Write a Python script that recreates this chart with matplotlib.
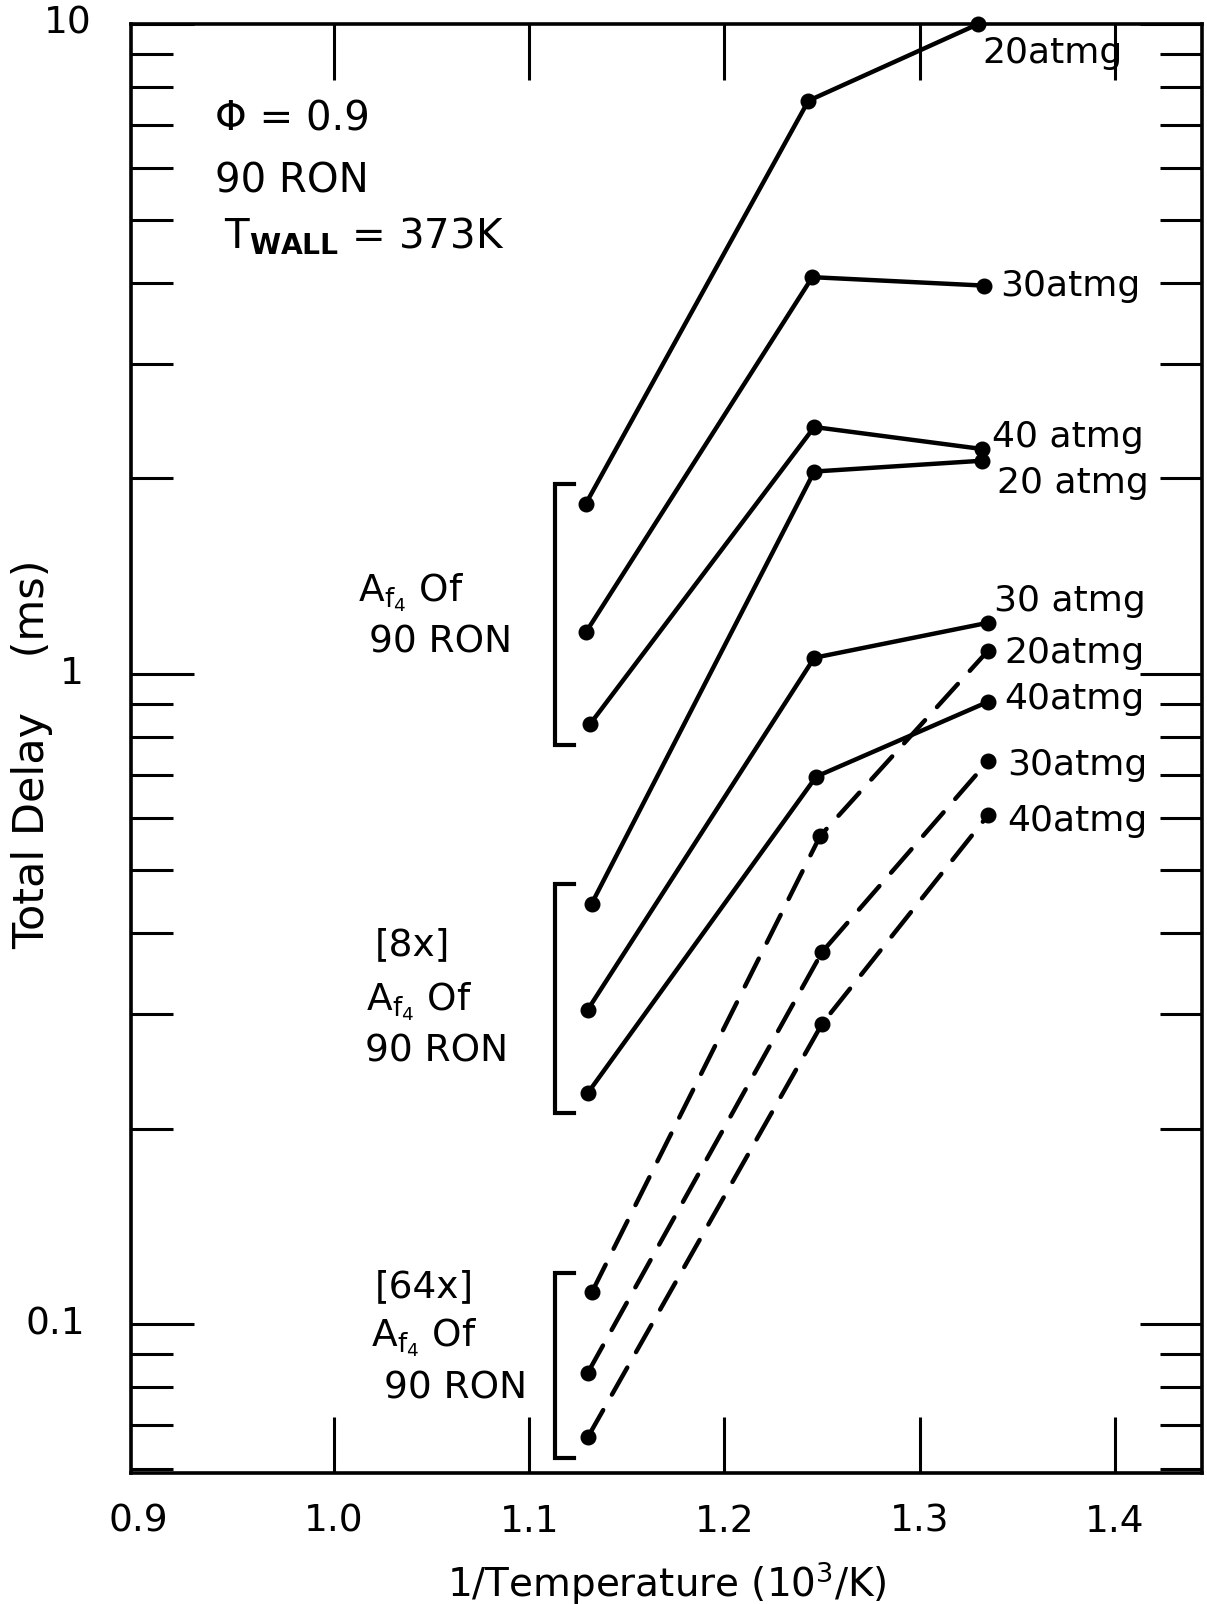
import matplotlib
matplotlib.use("Agg")
import matplotlib.pyplot as plt
import matplotlib.transforms as mtransforms
from matplotlib.ticker import FixedLocator, NullFormatter

plt.rcParams['font.family'] = ['DejaVu Sans']
plt.rcParams['mathtext.fontset'] = 'dejavusans'

# ---------------- data ----------------
# Group A : Af4 of 90 RON (solid)
xA20 = [1.129, 1.243, 1.330]
yA20 = [1.83, 7.62, 10.0]
xA30 = [1.129, 1.245, 1.333]
yA30 = [1.16, 4.08, 3.96]
xA40 = [1.131, 1.246, 1.332]
yA40 = [0.837, 2.40, 2.22]
# Group B : [8x] Af4 of 90 RON (solid)
xB20 = [1.132, 1.246, 1.332]
yB20 = [0.444, 2.05, 2.13]
xB30 = [1.130, 1.246, 1.335]
yB30 = [0.305, 1.06, 1.20]
xB40 = [1.130, 1.247, 1.335]
yB40 = [0.227, 0.696, 0.907]
# Group C : [64x] Af4 of 90 RON (dashed)
xC20 = [1.132, 1.249, 1.335]
yC20 = [0.112, 0.564, 1.087]
xC30 = [1.130, 1.250, 1.335]
yC30 = [0.0843, 0.374, 0.735]
xC40 = [1.130, 1.250, 1.335]
yC40 = [0.0671, 0.290, 0.607]

end_labels = ["20atmg", "30atmg", "40 atmg", "20 atmg", "30 atmg",
              "20atmg", "40atmg", "30atmg", "40atmg"]

x_ticks = [0.9, 1.0, 1.1, 1.2, 1.3, 1.4]
x_tick_labels = ["0.9", "1.0", "1.1", "1.2", "1.3", "1.4"]
y_major = [0.1, 1, 10]
y_major_labels = ["0.1", "1", "10"]

xlabel = "1/Temperature (10$^3$/K)"
ylabel = "Total Delay    (ms)"

# ---------------- figure ----------------
W, H = 1207, 1604
fig = plt.figure(figsize=(W / 100, H / 100), dpi=100)
ax = fig.add_axes([131 / W, 1 - 1473 / H, (1202 - 131) / W, (1473 - 24) / H])
ax.set_yscale("log")
ax.set_xlim(0.896, 1.4446)
ax.set_ylim(0.0591, 10)

LW = 3.2
solid = [(xA20, yA20), (xA30, yA30), (xA40, yA40),
         (xB20, yB20), (xB30, yB30), (xB40, yB40)]
dashed = [(xC20, yC20), (xC30, yC30), (xC40, yC40)]
for xs, ys in solid:
    ax.plot(xs, ys, color="black", lw=LW, marker="o", ms=10.5,
            solid_capstyle="round", clip_on=False, zorder=3)
for xs, ys in dashed:
    ax.plot(xs, ys, color="black", lw=LW, marker="o", ms=10.5,
            dashes=(7, 4), dash_capstyle="round", clip_on=False, zorder=3)

# end-of-line pressure labels
end_pos = [(1.3319, 9.02), (1.3414, 3.95), (1.3372, 2.317), (1.3398, 1.969),
           (1.3382, 1.298), (1.3435, 1.079), (1.3435, 0.917), (1.345, 0.724),
           (1.345, 0.5955)]
for lab, (tx, ty) in zip(end_labels, end_pos):
    ax.text(tx, ty, lab, fontsize=26, ha="left", va="center")

# brackets and group labels
bx0, bx1 = 1.113, 1.123
groups = [(yA20, yA30, yA40), (yB20, yB30, yB40), (yC20, yC30, yC40)]
for g in groups:
    firsts = [s[0] for s in g]
    top, bot = max(firsts) * 1.07, min(firsts) * 0.93
    ax.plot([bx1, bx0, bx0, bx1], [top, top, bot, bot], color="black",
            lw=3, solid_joinstyle="miter", zorder=2)

af = r"A$_{\mathrm{f}_4}$ Of"
group_text = [
    (af, 1.0395, 1.337), ("90 RON", 1.0548, 1.118),
    ("[8x]", 1.0404, 0.383), (af, 1.0438, 0.3135), ("90 RON", 1.0527, 0.2626),
    ("[64x]", 1.0464, 0.114), (af, 1.0464, 0.0955), ("90 RON", 1.0621, 0.0797),
]
for t, tx, ty in group_text:
    ax.text(tx, ty, t, fontsize=27, ha="center", va="center")

# top-left conditions
ax.text(0.939, 6.85, "Φ = 0.9", fontsize=29, ha="left", va="baseline")
ax.text(0.939, 5.51, "90 RON", fontsize=29, ha="left", va="baseline")
ax.text(0.9434, 4.51, r"T$_{\mathbf{WALL}}$ = 373K", fontsize=29,
        ha="left", va="baseline")

# ---------------- axes styling ----------------
for sp in ax.spines.values():
    sp.set_linewidth(2.6)

ax.xaxis.set_major_locator(FixedLocator(x_ticks))
ax.set_xticklabels(x_tick_labels)
ax.tick_params(axis="x", which="major", direction="in", top=True, bottom=True,
               length=40, width=2.2, pad=22, labelsize=27)
ax.tick_params(axis="x", which="minor", bottom=False, top=False)
xt = ax.xaxis.get_major_ticks()
xt[0].tick1line.set_visible(False)
xt[0].tick2line.set_visible(False)

ax.yaxis.set_major_locator(FixedLocator(y_major))
ax.yaxis.set_minor_locator(FixedLocator(
    [m * d for d in (0.01, 0.1, 1) for m in range(2, 10)]))
ax.yaxis.set_major_formatter(NullFormatter())
ax.yaxis.set_minor_formatter(NullFormatter())
ax.tick_params(axis="y", which="major", direction="in", left=True, right=True,
               length=45, width=2.2)
ax.tick_params(axis="y", which="minor", direction="in", left=True, right=True,
               length=30, width=2.2)

# y tick labels (placed like the hand-lettered original)
trans = mtransforms.blended_transform_factory(fig.transFigure, ax.transData)
ylab_x = [85 / W, 72 / W, 92 / W]
ylab_ha = ["right", "center", "right"]
for v, lab, lx, ha in zip(y_major, y_major_labels, ylab_x, ylab_ha):
    ax.text(lx, v, lab, transform=trans, fontsize=27, ha=ha, va="center",
            clip_on=False)

ax.set_xlabel(xlabel, fontsize=28, labelpad=14)
fig.text(32 / W, 1 - 754 / H, ylabel, rotation=90, fontsize=31,
         ha="center", va="center")

fig.savefig("out.png", dpi=100)
